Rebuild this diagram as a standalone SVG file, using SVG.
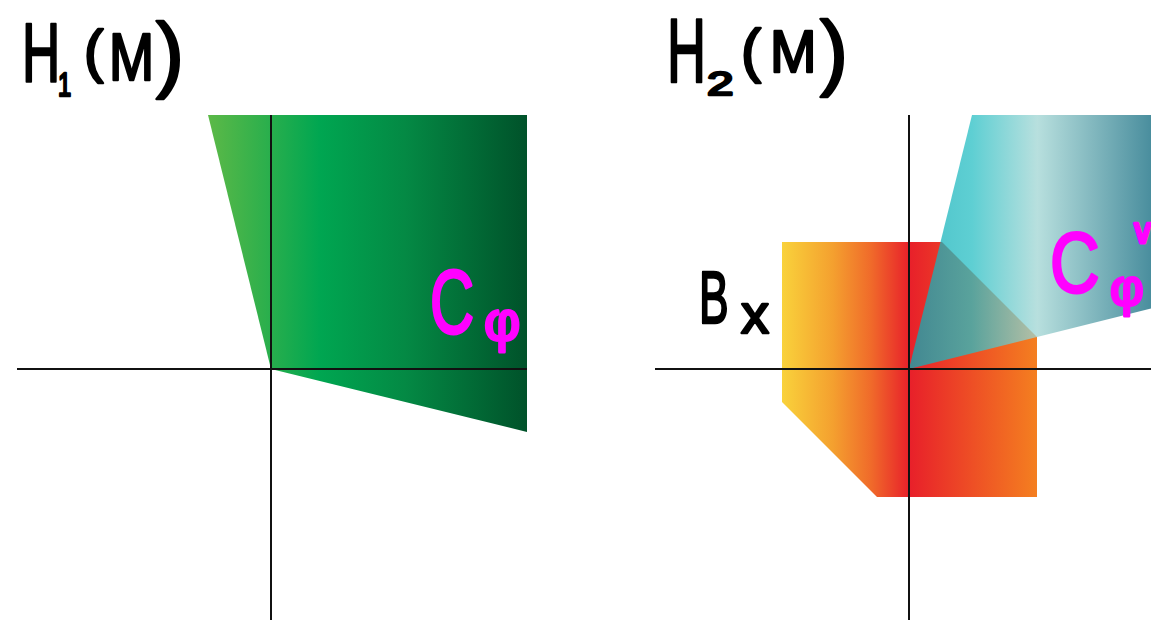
<svg xmlns="http://www.w3.org/2000/svg" width="1151" height="620" viewBox="0 0 1151 620">
  <style>
    .axis { stroke: #111; stroke-width: 2; fill: none; }
    .hw { font-family: "Liberation Sans", "DejaVu Sans", sans-serif; fill: #000; stroke: #000; stroke-width: 2.5; stroke-linejoin: round; }
    .mg { font-family: "Liberation Sans", "DejaVu Sans", sans-serif; fill: #ff00ff; stroke: #ff00ff; stroke-width: 3; stroke-linejoin: round; }
  </style>
  <defs>
    <linearGradient id="gGreen" gradientUnits="userSpaceOnUse" x1="208" y1="0" x2="527" y2="0">
      <stop offset="0" stop-color="#5cb947"/>
      <stop offset="0.35" stop-color="#00a651"/>
      <stop offset="0.62" stop-color="#048944"/>
      <stop offset="1" stop-color="#00522a"/>
    </linearGradient>
    <linearGradient id="gOrange" gradientUnits="userSpaceOnUse" x1="782" y1="0" x2="1037" y2="0">
      <stop offset="0" stop-color="#f9d23b"/>
      <stop offset="0.2" stop-color="#f4a02f"/>
      <stop offset="0.35" stop-color="#f06a2a"/>
      <stop offset="0.5" stop-color="#e8202a"/>
      <stop offset="1" stop-color="#f47f20"/>
    </linearGradient>
    <linearGradient id="gTeal" gradientUnits="userSpaceOnUse" x1="909" y1="0" x2="1151" y2="0">
      <stop offset="0" stop-color="rgb(10,170,180)"/>
      <stop offset="0.26" stop-color="rgb(40,191,196)"/>
      <stop offset="0.53" stop-color="rgb(160,213,211)"/>
      <stop offset="1" stop-color="rgb(13,104,125)"/>
    </linearGradient>
  </defs>

  <rect width="1151" height="620" fill="#fff"/>

  <!-- Left panel -->
  <g id="H1-cone">
    <polygon points="208,115 527,115 527,432 271,369" fill="url(#gGreen)"/>
  </g>

  <!-- Right panel -->
  <g id="Bx-region">
    <polygon points="782,242 942,242 1037,337 1037,497 877,497 782,402" fill="url(#gOrange)"/>
  </g>
  <g id="Cphi-dual-cone">
    <polygon points="909,369 972,115 1151,115 1151,308.5" fill="url(#gTeal)" fill-opacity="0.75"/>
  </g>

  <g id="axes">
    <line class="axis" x1="17" y1="369" x2="527" y2="369"/>
    <line class="axis" x1="271" y1="115" x2="271" y2="620"/>
    <line class="axis" x1="655" y1="369" x2="1151" y2="369"/>
    <line class="axis" x1="909" y1="115" x2="909" y2="620"/>
  </g>

  <!-- Labels -->
  <g id="title-H1">
    <text class="hw" font-size="84" transform="translate(22,82) scale(0.63,1)">H</text>
    <text class="hw" font-size="34" transform="translate(58,96) scale(0.7,1)">1</text>
    <text class="hw" font-size="58" x="84" y="71">(</text>
    <text class="hw" font-size="66" transform="translate(109,80) scale(0.82,1)">M</text>
    <text class="hw" font-size="84" x="156" y="82">)</text>
  </g>
  <g id="title-H2">
    <text class="hw" font-size="90" transform="translate(667,82) scale(0.6,1)">H</text>
    <text class="hw" font-size="34" transform="translate(707,95) scale(1.4,1)">2</text>
    <text class="hw" font-size="60" x="741" y="71">(</text>
    <text class="hw" font-size="60" transform="translate(770,72) scale(0.93,1)">M</text>
    <text class="hw" font-size="84" x="820" y="80">)</text>
  </g>
  <g id="label-Bx">
    <text class="hw" font-size="74" transform="translate(699,323) scale(0.6,1)">B</text>
    <text class="hw" font-size="56" x="741" y="333">x</text>
  </g>
  <g id="label-Cphi-left">
    <text class="mg" font-size="90" transform="translate(430,333) scale(0.68,1)">C</text>
    <text class="mg" font-size="56" x="484" y="340">φ</text>
  </g>
  <g id="label-Cphi-right">
    <text class="mg" font-size="86" transform="translate(1050,292) scale(0.8,1)">C</text>
    <text class="mg" font-size="52" x="1110" y="305">φ</text>
    <text class="mg" font-size="34" x="1130" y="243">∨</text>
  </g>
</svg>
